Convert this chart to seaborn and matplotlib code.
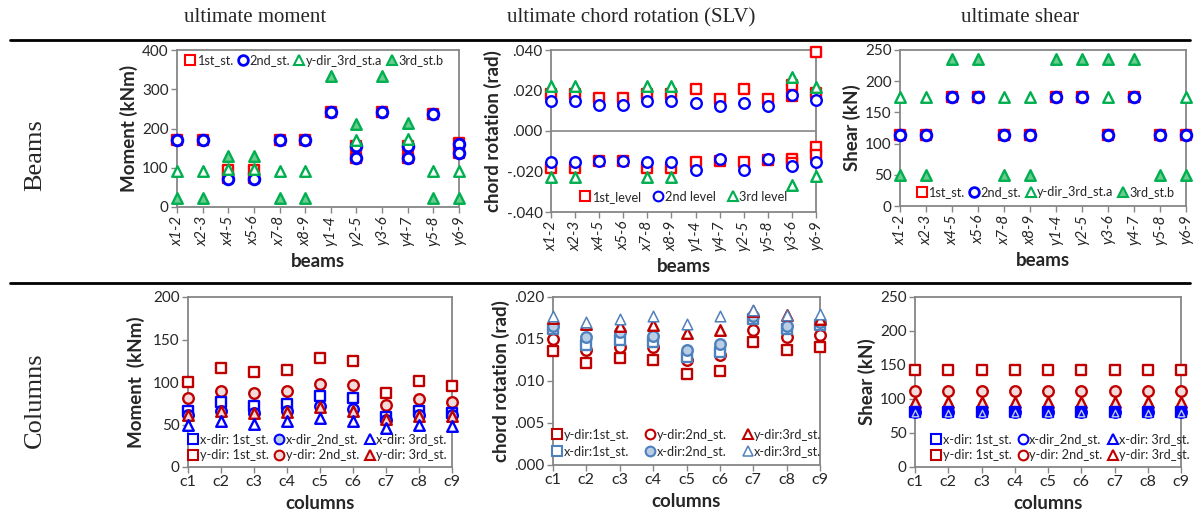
import numpy as np
import matplotlib
matplotlib.use("Agg")
import matplotlib.pyplot as plt
from matplotlib.lines import Line2D
import seaborn as sns

nan = np.nan

# ---- data ----
beams_a = ['x1-2', 'x2-3', 'x4-5', 'x5-6', 'x7-8', 'x8-9', 'y1-4', 'y2-5', 'y3-6', 'y4-7', 'y5-8', 'y6-9']
beams_b = ['x1-2', 'x2-3', 'x4-5', 'x5-6', 'x7-8', 'x8-9', 'y1-4', 'y4-7', 'y2-5', 'y5-8', 'y3-6', 'y6-9']
cols = ['c1', 'c2', 'c3', 'c4', 'c5', 'c6', 'c7', 'c8', 'c9']

# beams - ultimate moment (kNm)
mom_1st_a = [170, 170, 95, 95, 170, 170, 243, 155, 243, 155, 238, 162]
mom_1st_b = [nan, nan, 75, 75, nan, nan, nan, 125, nan, 125, nan, 138]
mom_2nd_a = [170, 170, 72, 72, 170, 170, 243, 155, 243, 155, 238, 160]
mom_2nd_b = [nan, nan, nan, nan, nan, nan, nan, 125, nan, 125, nan, 138]
mom_3rd_a = [92, 92, 98, 98, 92, 92, nan, 170, nan, 172, 92, 92]
mom_3rd_b = [22, 22, 130, 130, 22, 22, 335, 212, 335, 213, 22, 22]

# beams - chord rotation (rad)
rot_1st_pos = [.0182, .0182, .0161, .0161, .0182, .0182, .0207, .0158, .0207, .0158, .0227, .0390]
rot_1st_pos2 = [nan, nan, nan, nan, nan, nan, nan, nan, nan, nan, .0172, .0188]
rot_2nd_pos = [.0150, .0150, .0126, .0126, .0150, .0150, .0140, .0125, .0140, .0125, .0180, .0153]
rot_3rd_pos = [.0222, .0222, nan, nan, .0222, .0222, nan, nan, nan, nan, .0268, .0217]
rot_1st_neg = [-.0181, -.0181, -.0146, -.0146, -.0181, -.0181, -.0154, -.0146, -.0154, -.0143, -.0138, -.0079]
rot_1st_neg2 = [nan, nan, nan, nan, nan, nan, nan, nan, nan, nan, -.0160, -.0119]
rot_2nd_neg = [-.0151, -.0151, -.0146, -.0146, -.0151, -.0151, -.0192, -.0140, -.0192, -.0140, -.0175, -.0153]
rot_3rd_neg = [-.0228, -.0228, nan, nan, -.0228, -.0228, nan, nan, nan, nan, -.0266, -.0222]

# beams - ultimate shear (kN)
sh_1st = [113, 113, 175, 175, 113, 113, 175, 175, 113, 175, 113, 113]
sh_2nd = [113, 113, 175, 175, 113, 113, 175, 175, 113, 175, 113, 113]
sh_3rd_a = [175, 175, nan, nan, 175, 175, nan, nan, 175, nan, nan, 175]
sh_3rd_b = [50, 50, 235, 235, 50, 50, 235, 235, 235, 235, 50, 50]

# columns - moment (kNm)
cm_y1 = [100, 117, 112, 114, 128, 125, 87, 101, 95]
cm_y2 = [81, 90, 87, 89, 98, 96, 73, 80, 77]
cm_y3 = [61, 66, 63, 65, 71, 66, 57, 60, 60]
cm_x1 = [66, 76, 72, 74, 83, 81, 59, 66, 63]
cm_x2 = [61, 66, 64, 66, 72, 68, 55, 61, 61]
cm_x3 = [50, 54, 51, 54, 58, 54, 46, 49, 48]

# columns - chord rotation (rad)
cr_y1 = [.0136, .0122, .0127, .0125, .0108, .0112, .0146, .0137, .0141]
cr_y2 = [.0150, .0137, .0141, .0140, .0125, .0131, .0161, .0152, .0155]
cr_y3 = [.0175, .0168, .0165, .0167, .0157, .0161, .0183, .0178, .0174]
cr_x1 = [.0162, .0143, .0149, .0147, .0128, .0135, .0174, .0162, .0167]
cr_x2 = [.0166, .0152, .0158, .0154, .0137, .0144, .0177, .0166, .0170]
cr_x3 = [.0177, .0170, .0174, .0177, .0168, .0177, .0185, .0179, .0180]

# columns - shear (kN)
cs_y1 = [143, 143, 143, 143, 143, 143, 143, 143, 143]
cs_y2 = [112, 112, 112, 112, 112, 112, 112, 112, 112]
cs_y3 = [96, 96, 96, 96, 96, 96, 96, 96, 96]
cs_x1 = [81, 81, 81, 81, 81, 81, 81, 81, 81]
cs_x2 = [81, 81, 81, 81, 81, 81, 81, 81, 81]
cs_x3 = [80, 80, 80, 80, 80, 80, 80, 80, 80]

rot_ticks = ['-.040', '-.020', '.000', '.020', '.040']
rotc_ticks = ['.000', '.005', '.010', '.015', '.020']

# ---- style ----
sns.set_theme(style='white')
plt.rcParams['font.family'] = ['Lato', 'DejaVu Sans']

RED, BLUE, GREEN = '#FF0000', '#0000FF', '#00B050'
DRED, PINK = '#C00000', '#F2DCDB'
SBLUE, LBLUE = '#4F81BD', '#B9CDE5'
GFILL = '#6CCB8E'
SPINE = '#868686'
LAB = dict(fontsize=13.5, fontweight='bold')
LEG = dict(frameon=False, fontsize=9.2, handletextpad=0.05, handlelength=0.9,
           borderaxespad=0.2)


def pts(ax, y, marker, ec, fc='white', s=58, lw=1.7):
    sns.scatterplot(x=np.arange(len(y)), y=y, ax=ax, marker=marker, s=s,
                    color=fc, edgecolor=ec, linewidth=lw, legend=False,
                    zorder=3, clip_on=False)


def h(marker, ec, fc='white', ms=7, mew=1.5):
    return Line2D([], [], ls='', marker=marker, mec=ec, mfc=fc, ms=ms, mew=mew)


def frame(ax, n, labels, rot):
    ax.set_xlim(0, n - 1)
    ax.set_xticks(np.arange(n))
    for sp in ax.spines.values():
        sp.set_color(SPINE)
        sp.set_linewidth(1.3)
    ax.tick_params(axis='both', which='major', length=4, width=1, color=SPINE,
                   direction='out', bottom=True, left=True, labelsize=11, pad=2)
    if rot:
        ax.set_xticklabels(labels, rotation=90, style='italic', fontsize=11)
    else:
        ax.set_xticklabels(labels, fontsize=11.5)


fig = plt.figure(figsize=(11.99, 5.22), dpi=100)
W, H = 1199, 522


def axes_px(l, r, t, b):
    return fig.add_axes([l / W, (H - b) / H, (r - l) / W, (b - t) / H])


ax1 = axes_px(177, 459, 50, 207)
ax2 = axes_px(551, 816, 50, 212)
ax3 = axes_px(900, 1186, 50, 206)
ax4 = axes_px(188, 452, 297, 467)
ax5 = axes_px(553, 820, 297, 465)
ax6 = axes_px(915, 1181, 297, 467)

# -- panel 1: beam moment
pts(ax1, mom_1st_a, 's', RED)
pts(ax1, mom_1st_b, 's', RED)
pts(ax1, mom_2nd_a, 'o', BLUE, lw=2.1)
pts(ax1, mom_2nd_b, 'o', BLUE, lw=2.1)
pts(ax1, mom_3rd_a, '^', GREEN)
pts(ax1, mom_3rd_b, '^', GREEN, GFILL)
frame(ax1, len(beams_a), beams_a, True)
ax1.set_ylim(0, 400)
ax1.set_yticks([0, 100, 200, 300, 400])
ax1.set_ylabel('Moment (kNm)', labelpad=3, **LAB)
ax1.set_xlabel('beams', labelpad=5, **LAB)
ax1.legend([h('s', RED), h('o', BLUE, mew=2), h('^', GREEN), h('^', GREEN, GFILL)],
           ['1st_st.', '2nd_st.', 'y-dir_3rd_st.a', '3rd_st.b'],
           loc='upper left', bbox_to_anchor=(0.0, 1.02), ncol=4,
           columnspacing=0.3, **LEG)

# -- panel 2: beam chord rotation
ax2.axhline(0, color=SPINE, lw=1.2, zorder=1)
for y in (rot_1st_pos, rot_1st_pos2, rot_1st_neg, rot_1st_neg2):
    pts(ax2, y, 's', RED)
for y in (rot_2nd_pos, rot_2nd_neg):
    pts(ax2, y, 'o', BLUE)
for y in (rot_3rd_pos, rot_3rd_neg):
    pts(ax2, y, '^', GREEN)
frame(ax2, len(beams_b), beams_b, True)
ax2.set_ylim(-0.04, 0.04)
ax2.set_yticks([-0.04, -0.02, 0, 0.02, 0.04])
ax2.set_yticklabels(rot_ticks)
ax2.set_ylabel('chord rotation (rad)', labelpad=3, **LAB)
ax2.set_xlabel('beams', labelpad=5, **LAB)
ax2.legend([h('s', RED), h('o', BLUE), h('^', GREEN)],
           ['1st_level', '2nd level', '3rd level'],
           loc='lower center', bbox_to_anchor=(0.5, 0.01), ncol=3,
           columnspacing=0.9, **LEG)

# -- panel 3: beam shear
pts(ax3, sh_1st, 's', RED)
pts(ax3, sh_2nd, 'o', BLUE, lw=2.1)
pts(ax3, sh_3rd_a, '^', GREEN)
pts(ax3, sh_3rd_b, '^', GREEN, GFILL)
frame(ax3, len(beams_a), beams_a, True)
ax3.set_ylim(0, 250)
ax3.set_yticks([0, 50, 100, 150, 200, 250])
ax3.set_ylabel('Shear (kN)', labelpad=3, **LAB)
ax3.set_xlabel('beams', labelpad=5, **LAB)
ax3.legend([h('s', RED), h('o', BLUE, mew=2), h('^', GREEN), h('^', GREEN, GFILL)],
           ['1st_st.', '2nd_st.', 'y-dir_3rd_st.a', '3rd_st.b'],
           loc='lower left', bbox_to_anchor=(0.03, 0.0), ncol=4,
           columnspacing=0.3, **LEG)

# -- panel 4: column moment
pts(ax4, cm_y1, 's', DRED)
pts(ax4, cm_y2, 'o', DRED, PINK)
pts(ax4, cm_x1, 's', BLUE)
pts(ax4, cm_x2, 'o', BLUE, LBLUE)
pts(ax4, cm_y3, '^', DRED, PINK)
pts(ax4, cm_x3, '^', BLUE)
frame(ax4, len(cols), cols, False)
ax4.set_ylim(0, 200)
ax4.set_yticks([0, 50, 100, 150, 200])
ax4.set_ylabel('Moment  (kNm)', labelpad=6, **LAB)
ax4.set_xlabel('columns', labelpad=4, **LAB)
ax4.legend([h('s', BLUE), h('s', DRED), h('o', BLUE, LBLUE), h('o', DRED, PINK),
            h('^', BLUE), h('^', DRED, PINK)],
           ['x-dir: 1st_st.', 'y-dir: 1st_st.', 'x-dir_2nd_st.', 'y-dir: 2nd_st.',
            'x-dir: 3rd_st.', 'y-dir: 3rd_st.'],
           loc='lower right', bbox_to_anchor=(1.01, -0.01), ncol=3,
           columnspacing=0.4, labelspacing=0.3, **LEG)

# -- panel 5: column chord rotation
pts(ax5, cr_y1, 's', DRED)
pts(ax5, cr_y2, 'o', DRED)
pts(ax5, cr_x1, 's', SBLUE)
pts(ax5, cr_x2, 'o', SBLUE, LBLUE)
pts(ax5, cr_y3, '^', DRED)
pts(ax5, cr_x3, '^', SBLUE, lw=1.1)
frame(ax5, len(cols), cols, False)
ax5.set_ylim(0, 0.02)
ax5.set_yticks([0, 0.005, 0.01, 0.015, 0.02])
ax5.set_yticklabels(rotc_ticks)
ax5.set_ylabel('chord rotation (rad)', labelpad=3, **LAB)
ax5.set_xlabel('columns', labelpad=4, **LAB)
ax5.legend([h('s', DRED), h('s', SBLUE), h('o', DRED), h('o', SBLUE, LBLUE),
            h('^', DRED), h('^', SBLUE, mew=1.1)],
           ['y-dir:1st_st.', 'x-dir:1st_st.', 'y-dir:2nd_st.', 'x-dir:2nd_st.',
            'y-dir:3rd_st.', 'x-dir:3rd_st.'],
           loc='lower center', bbox_to_anchor=(0.5, 0.0), ncol=3,
           columnspacing=1.2, labelspacing=0.35, **LEG)

# -- panel 6: column shear
pts(ax6, cs_y1, 's', DRED)
pts(ax6, cs_y2, 'o', DRED, PINK)
pts(ax6, cs_y3, '^', DRED, PINK)
pts(ax6, cs_x1, 's', BLUE, BLUE)
pts(ax6, cs_x2, 'o', BLUE, BLUE)
pts(ax6, cs_x3, '^', LBLUE, BLUE, s=22, lw=1)
frame(ax6, len(cols), cols, False)
ax6.set_ylim(0, 250)
ax6.set_yticks([0, 50, 100, 150, 200, 250])
ax6.set_ylabel('Shear (kN)', labelpad=3, **LAB)
ax6.set_xlabel('columns', labelpad=4, **LAB)
ax6.legend([h('s', BLUE), h('s', DRED), h('o', BLUE), h('o', DRED),
            h('^', BLUE), h('^', DRED)],
           ['x-dir: 1st_st.', 'y-dir: 1st_st.', 'x-dir_2nd_st.', 'y-dir: 2nd_st.',
            'x-dir: 3rd_st.', 'y-dir: 3rd_st.'],
           loc='lower left', bbox_to_anchor=(0.03, -0.01), ncol=3,
           columnspacing=0.4, labelspacing=0.3, **LEG)

# ---- headers, row labels, separators ----
serif = ['Liberation Serif', 'DejaVu Serif']
for x, t in [(255, 'ultimate moment'), (631, 'ultimate chord rotation (SLV)'),
             (1020, 'ultimate shear')]:
    fig.text(x / W, 1 - 18 / H, t, ha='center', va='center', fontsize=15, family=serif)
fig.text(35 / W, 1 - 155 / H, 'Beams', rotation=90, ha='center', va='center',
         fontsize=19, family=serif)
fig.text(35 / W, 1 - 400 / H, 'Columns', rotation=90, ha='center', va='center',
         fontsize=19, family=serif)
for y in (40, 283):
    fig.add_artist(Line2D([10 / W, 1190 / W], [1 - y / H, 1 - y / H], color='black', lw=2))

fig.savefig('out.png', dpi=100)
